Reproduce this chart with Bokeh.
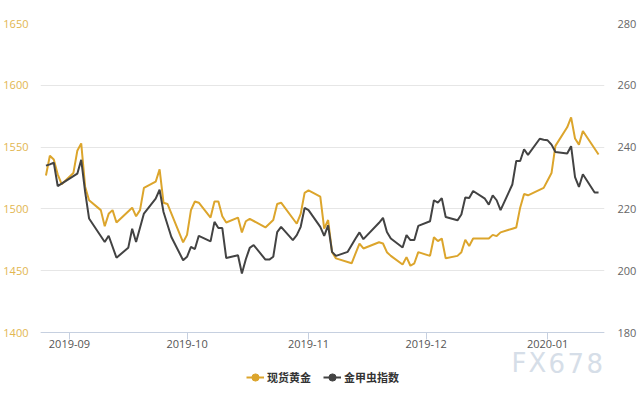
import pandas as pd
from bokeh.plotting import figure
from bokeh.models import (Range1d, LinearAxis, FixedTicker, DatetimeTickFormatter,
                          Legend, LegendItem, ColumnDataSource, Label)
from bokeh.embed import file_html
from bokeh.resources import INLINE

# ---------------- data ----------------
series_names = ["现货黄金", "金甲虫指数"]
watermark_text = "FX678"

gold_dates = [
    "2019-08-26", "2019-08-27", "2019-08-28", "2019-08-29", "2019-08-30", "2019-09-02",
    "2019-09-03", "2019-09-04", "2019-09-05", "2019-09-06", "2019-09-09", "2019-09-10",
    "2019-09-11", "2019-09-12", "2019-09-13", "2019-09-17", "2019-09-18", "2019-09-19",
    "2019-09-20", "2019-09-23", "2019-09-24", "2019-09-25", "2019-09-26", "2019-09-30",
    "2019-10-01", "2019-10-02", "2019-10-03", "2019-10-04", "2019-10-07", "2019-10-08",
    "2019-10-09", "2019-10-10", "2019-10-11", "2019-10-14", "2019-10-15", "2019-10-16",
    "2019-10-17", "2019-10-21", "2019-10-23", "2019-10-24", "2019-10-25", "2019-10-29",
    "2019-10-30", "2019-10-31", "2019-11-01", "2019-11-04", "2019-11-05", "2019-11-06",
    "2019-11-07", "2019-11-08", "2019-11-12", "2019-11-14", "2019-11-15", "2019-11-19",
    "2019-11-20", "2019-11-21", "2019-11-22", "2019-11-25", "2019-11-26", "2019-11-27",
    "2019-11-28", "2019-11-29", "2019-12-02", "2019-12-03", "2019-12-04", "2019-12-05",
    "2019-12-06", "2019-12-09", "2019-12-10", "2019-12-11", "2019-12-12", "2019-12-13",
    "2019-12-17", "2019-12-18", "2019-12-19", "2019-12-20", "2019-12-23", "2019-12-24",
    "2019-12-25", "2019-12-26", "2019-12-27", "2019-12-31", "2020-01-01", "2020-01-02",
    "2020-01-03", "2020-01-06", "2020-01-07", "2020-01-08", "2020-01-09", "2020-01-10",
    "2020-01-14",
]
gold_values = [
    1527, 1543, 1540, 1528, 1520, 1529,
    1547, 1553, 1518, 1507, 1499, 1486,
    1496, 1499, 1489, 1501, 1494, 1499,
    1517, 1522, 1532, 1505, 1504, 1473,
    1479, 1499, 1506, 1505, 1493, 1506,
    1506, 1494, 1489, 1493, 1481, 1490,
    1492, 1485, 1491, 1504, 1505, 1488,
    1496, 1513, 1515, 1510, 1484, 1491,
    1465, 1460, 1456, 1472, 1468, 1473,
    1472, 1465, 1462, 1455, 1461, 1454,
    1456, 1465, 1462, 1477, 1474, 1476,
    1460, 1462, 1465, 1475, 1470, 1476,
    1476, 1479, 1478, 1481, 1484, 1485,
    1501, 1512, 1511, 1517, 1523, 1529,
    1551, 1566, 1574, 1557, 1552, 1563,
    1544,
]

index_dates = [
    "2019-08-26", "2019-08-27", "2019-08-28", "2019-08-29", "2019-09-03", "2019-09-04",
    "2019-09-05", "2019-09-06", "2019-09-10", "2019-09-11", "2019-09-13", "2019-09-16",
    "2019-09-17", "2019-09-18", "2019-09-20", "2019-09-23", "2019-09-24", "2019-09-25",
    "2019-09-27", "2019-09-30", "2019-10-01", "2019-10-02", "2019-10-03", "2019-10-04",
    "2019-10-07", "2019-10-08", "2019-10-09", "2019-10-10", "2019-10-11", "2019-10-14",
    "2019-10-15", "2019-10-16", "2019-10-17", "2019-10-18", "2019-10-21", "2019-10-22",
    "2019-10-23", "2019-10-24", "2019-10-25", "2019-10-28", "2019-10-29", "2019-10-30",
    "2019-10-31", "2019-11-01", "2019-11-04", "2019-11-05", "2019-11-06", "2019-11-07",
    "2019-11-08", "2019-11-11", "2019-11-13", "2019-11-14", "2019-11-15", "2019-11-19",
    "2019-11-20", "2019-11-21", "2019-11-22", "2019-11-25", "2019-11-26", "2019-11-27",
    "2019-11-28", "2019-11-29", "2019-12-02", "2019-12-03", "2019-12-04", "2019-12-05",
    "2019-12-06", "2019-12-09", "2019-12-10", "2019-12-11", "2019-12-12", "2019-12-13",
    "2019-12-16", "2019-12-17", "2019-12-18", "2019-12-19", "2019-12-20", "2019-12-23",
    "2019-12-24", "2019-12-25", "2019-12-26", "2019-12-27", "2019-12-30", "2019-12-31",
    "2020-01-01", "2020-01-02", "2020-01-03", "2020-01-06", "2020-01-07", "2020-01-08",
    "2020-01-09", "2020-01-10", "2020-01-13", "2020-01-14",
]
index_values = [
    234.0, 234.4, 235.0, 227.4, 231.4, 235.9,
    225.5, 216.9, 209.3, 211.3, 204.2, 207.4,
    213.6, 209.3, 218.5, 223.3, 226.2, 219.0,
    210.9, 203.4, 204.5, 207.7, 207.0, 211.3,
    209.5, 215.8, 213.8, 213.8, 204.1, 205.0,
    199.1, 203.7, 207.4, 208.3, 203.6, 203.6,
    204.5, 212.5, 214.2, 209.9, 211.5, 214.2,
    220.3, 219.6, 214.2, 211.3, 214.7, 206.1,
    204.8, 206.1, 210.4, 212.4, 210.2, 215.5,
    217.1, 212.5, 210.4, 207.5, 211.5, 209.9,
    209.9, 214.5, 216.0, 222.8, 222.0, 223.5,
    217.4, 216.3, 218.2, 223.7, 223.5, 225.8,
    223.3, 221.4, 224.4, 222.8, 219.6, 227.9,
    235.5, 235.5, 239.3, 237.5, 242.7, 242.4,
    242.2, 240.8, 238.4, 237.9, 240.3, 230.3,
    227.1, 231.2, 225.3, 225.3,
]

month_ticks = ["2019-09-01", "2019-10-01", "2019-11-01", "2019-12-01", "2020-01-01"]
gold_ticks = [1400, 1450, 1500, 1550, 1600, 1650]
index_ticks = [180, 200, 220, 240, 260, 280]

# ---------------- styles / layout ----------------
GOLD = "#DCA52C"
GOLD_LABEL = "#E2B650"
DARK = "#434343"
W, H = 640, 400
TOP, LEFT, RIGHT = 23, 39, 36
AXIS_PX = 309          # pixel height between lowest and highest tick
EXTRA_PX = H - TOP - AXIS_PX   # frame continues below the x axis (legend area)

g_lo, g_hi = gold_ticks[0], gold_ticks[-1]
i_lo, i_hi = index_ticks[0], index_ticks[-1]
g_bottom = g_lo - EXTRA_PX * (g_hi - g_lo) / AXIS_PX
i_bottom = i_lo - EXTRA_PX * (i_hi - i_lo) / AXIS_PX

x_start = pd.Timestamp("2019-09-01") - pd.Timedelta(days=7.39)
x_end = pd.Timestamp("2020-01-01") + pd.Timedelta(days=14.52)

p = figure(width=W, height=H, x_axis_type="datetime",
           output_backend="svg", toolbar_location=None,
           x_range=Range1d(x_start, x_end), y_range=Range1d(g_bottom, g_hi),
           min_border_left=LEFT, min_border_right=RIGHT, min_border_top=TOP,
           min_border_bottom=0)
p.outline_line_color = None
p.background_fill_color = "white"
p.border_fill_color = "white"
p.xgrid.grid_line_color = None
p.ygrid.grid_line_color = "#e6e6e6"
p.ygrid.grid_line_width = 1
p.ygrid.ticker = FixedTicker(ticks=gold_ticks)

# left axis
la = p.yaxis[0]
la.ticker = FixedTicker(ticks=gold_ticks)
la.axis_line_color = None
la.major_tick_line_color = None
la.minor_tick_line_color = None
la.major_tick_out = 0
la.major_tick_in = 0
la.minor_tick_out = 0
la.major_label_text_color = GOLD_LABEL
la.major_label_text_font = "Open Sans"
la.major_label_text_font_size = "11px"
la.major_label_standoff = 12

# right axis
p.extra_y_ranges = {"idx": Range1d(i_bottom, i_hi)}
ra = LinearAxis(y_range_name="idx", ticker=FixedTicker(ticks=index_ticks))
ra.axis_line_color = None
ra.major_tick_line_color = None
ra.minor_tick_line_color = None
ra.major_tick_out = 0
ra.major_tick_in = 0
ra.minor_tick_out = 0
ra.major_label_text_color = "#666666"
ra.major_label_text_font = "Open Sans"
ra.major_label_text_font_size = "11px"
ra.major_label_standoff = 13
p.add_layout(ra, "right")

# bottom axis, pinned at the lowest gold tick
xa = p.xaxis[0]
xa.fixed_location = g_lo
xa.ticker = FixedTicker(ticks=[pd.Timestamp(d).value // 10**6 for d in month_ticks])
xa.formatter = DatetimeTickFormatter(days="%Y-%m", months="%Y-%m", years="%Y-%m")
xa.axis_line_color = "#c6d0e0"
xa.major_tick_line_color = "#c6d0e0"
xa.major_tick_out = 7
xa.major_tick_in = 0
xa.minor_tick_line_color = None
xa.major_label_text_color = "#555555"
xa.major_label_text_font = "Open Sans"
xa.major_label_text_font_size = "11px"
xa.major_label_standoff = 0

# lines
gsrc = ColumnDataSource(dict(x=pd.to_datetime(gold_dates), y=gold_values))
isrc = ColumnDataSource(dict(x=pd.to_datetime(index_dates), y=index_values))
g_line = p.line("x", "y", source=gsrc, line_color=GOLD, line_width=2)
i_line = p.line("x", "y", source=isrc, line_color=DARK, line_width=2, y_range_name="idx")
# marker glyphs used only for the legend icons
g_mark = p.scatter("x", "y", source=gsrc, marker="circle", fill_color=GOLD,
                   line_color=GOLD, visible=False)
i_mark = p.scatter("x", "y", source=isrc, marker="circle", fill_color=DARK,
                   line_color=DARK, y_range_name="idx", visible=False)

legend = Legend(items=[LegendItem(label=series_names[0], renderers=[g_line, g_mark]),
                       LegendItem(label=series_names[1], renderers=[i_line, i_mark])],
                orientation="horizontal", location=(206, 14),
                border_line_color=None, background_fill_alpha=0,
                padding=0, margin=0, spacing=12,
                glyph_width=18, glyph_height=18, label_standoff=3, label_height=18,
                label_text_font="Noto Sans CJK SC", label_text_font_style="bold",
                label_text_font_size="11px", label_text_color="#333333")
p.add_layout(legend, "center")

# watermark, letter-spaced
wm_step = [17, 20, 19, 19, 0]
wm_x = 471
for ch, adv in zip(watermark_text, wm_step):
    p.add_layout(Label(x=wm_x, y=38, x_units="screen", y_units="screen", text=ch,
                       text_font="DejaVu Sans", text_font_size="26px",
                       text_color="#d6dee8", text_baseline="alphabetic"))
    wm_x += adv

open("out.html", "w").write(file_html(p, INLINE))
